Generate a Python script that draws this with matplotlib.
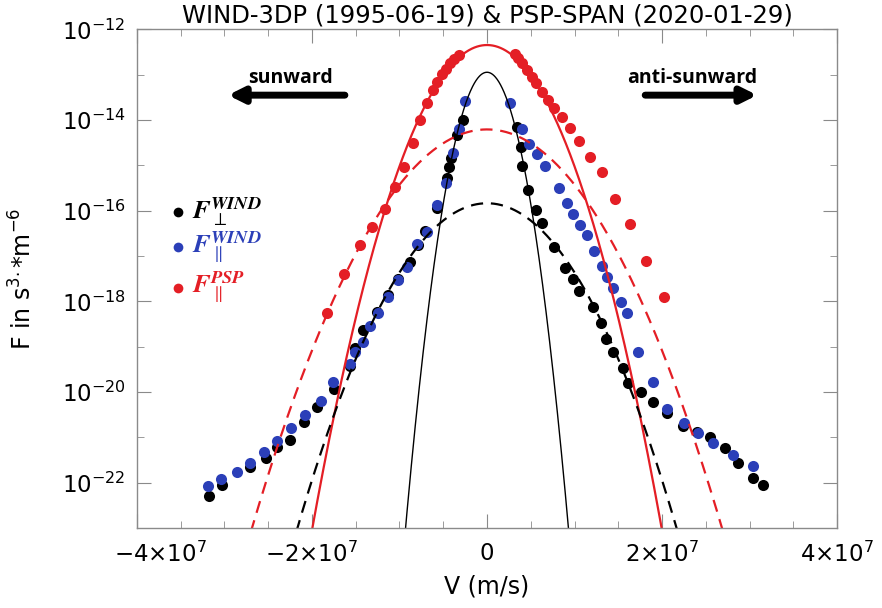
import numpy as np
import matplotlib
matplotlib.use("Agg")
import matplotlib.pyplot as plt
from matplotlib.transforms import ScaledTranslation

# --- data (velocity in m/s, F in s^3/m^6) ---
v_perp_wind = [-3.174e7, -3.032e7, -2.709e7, -2.526e7, -2.397e7, -2.251e7, -2.091e7, -1.946e7,
               -1.749e7, -1.566e7, -1.509e7, -1.414e7, -1.254e7, -1.128e7, -1.014e7, -0.880e7,
               -0.785e7, -0.714e7, -0.575e7, -0.461e7, -0.431e7, -0.417e7, -0.339e7, -0.278e7,
               0.339e7, 0.385e7, 0.397e7, 0.472e7, 0.560e7, 0.625e7, 0.766e7, 0.891e7,
               0.979e7, 1.055e7, 1.208e7, 1.299e7, 1.360e7, 1.443e7, 1.551e7, 1.608e7,
               1.757e7, 1.894e7, 2.054e7, 2.237e7, 2.397e7, 2.549e7, 2.720e7, 2.872e7,
               3.043e7, 3.151e7]
f_perp_wind = [5.1e-23, 9.0e-23, 2.2e-22, 3.5e-22, 6.1e-22, 8.8e-22, 2.2e-21, 4.8e-21,
               1.15e-20, 3.8e-20, 9.3e-20, 2.3e-19, 5.9e-19, 1.4e-18, 3.1e-18, 7.5e-18,
               1.75e-17, 3.5e-17, 1.16e-16, 5.2e-16, 9.3e-16, 1.43e-15, 4.7e-15, 1.0e-14,
               6.9e-15, 2.5e-15, 9.7e-16, 2.9e-16, 1.04e-16, 5.4e-17, 1.6e-17, 5.4e-18,
               3.1e-18, 1.7e-18, 7.6e-19, 3.3e-19, 1.5e-19, 7.8e-20, 3.4e-20, 1.56e-20,
               1.0e-20, 6.1e-21, 3.4e-21, 1.8e-21, 1.3e-21, 1.0e-21, 5.8e-22, 2.7e-22,
               1.26e-22, 9.0e-23]

v_par_wind = [-3.185e7, -3.043e7, -2.854e7, -2.709e7, -2.549e7, -2.397e7, -2.243e7, -2.077e7,
              -1.901e7, -1.757e7, -1.566e7, -1.509e7, -1.421e7, -1.337e7, -1.242e7, -1.128e7,
              -1.014e7, -0.918e7, -0.803e7, -0.689e7, -0.566e7, -0.466e7, -0.392e7, -0.317e7,
              -0.246e7,
              0.263e7, 0.397e7, 0.483e7, 0.568e7, 0.663e7, 0.823e7, 0.918e7, 0.986e7,
              1.063e7, 1.139e7, 1.226e7, 1.311e7, 1.368e7, 1.437e7, 1.528e7, 1.597e7,
              1.729e7, 1.894e7, 2.054e7, 2.251e7, 2.415e7, 2.586e7, 2.815e7, 3.037e7]
f_par_wind = [8.5e-23, 1.21e-22, 1.76e-22, 2.8e-22, 4.9e-22, 8.5e-22, 1.6e-21, 3.1e-21,
              6.5e-21, 1.7e-20, 4.2e-20, 7.8e-20, 1.3e-19, 2.8e-19, 5.6e-19, 1.27e-18,
              3.0e-18, 5.8e-18, 1.8e-17, 3.4e-17, 1.34e-16, 4.0e-16, 1.9e-15, 6.3e-15,
              2.56e-14,
              2.37e-14, 6.2e-15, 3.0e-15, 1.8e-15, 9.7e-16, 3.1e-16, 1.46e-16, 8.5e-17,
              4.8e-17, 2.9e-17, 1.3e-17, 6.0e-18, 3.5e-18, 1.95e-18, 9.8e-19, 5.6e-19,
              7.8e-20, 1.7e-20, 4.2e-21, 2.05e-21, 1.27e-21, 7.4e-22, 4.1e-22, 2.3e-22]

v_par_psp = [-1.832e7, -1.634e7, -1.451e7, -1.318e7, -1.166e7, -1.051e7, -0.943e7, -0.846e7,
             -0.762e7, -0.680e7, -0.617e7, -0.568e7, -0.518e7, -0.474e7, -0.426e7, -0.377e7,
             -0.320e7,
             0.320e7, 0.358e7, 0.397e7, 0.454e7, 0.511e7, 0.560e7, 0.625e7, 0.701e7,
             0.766e7, 0.854e7, 0.949e7, 1.055e7, 1.177e7, 1.317e7, 1.463e7, 1.634e7,
             1.821e7, 2.026e7]
f_par_psp = [5.6e-19, 4.0e-18, 1.75e-17, 4.4e-17, 1.09e-16, 3.3e-16, 9.1e-16, 3.1e-15,
             1.0e-14, 2.4e-14, 4.7e-14, 7.0e-14, 1.01e-13, 1.33e-13, 1.78e-13, 2.24e-13,
             2.71e-13,
             2.85e-13, 2.3e-13, 1.78e-13, 1.27e-13, 9.0e-14, 6.4e-14, 4.2e-14, 2.76e-14,
             1.81e-14, 1.16e-14, 6.6e-15, 3.5e-15, 1.55e-15, 7.2e-16, 1.78e-16, 5.2e-17,
             7.7e-18, 1.27e-18]

# Maxwellian fits: peak value and thermal speed (m/s)
fit_peak = [4.5e-13, 6.2e-15, 1.13e-13, 1.46e-16]
fit_vth = [4.03e6, 5.97e6, 1.935e6, 5.335e6]
fit_color = ["#e41e25", "#e41e25", "black", "black"]
fit_style = ["-", "--", "-", "--"]
fit_lw = [1.6, 1.6, 1.0, 1.6]

RED = "#e41e25"
BLUE = "#2b3fb8"

fig = plt.figure(figsize=(8.82, 6.08), dpi=100)
ax = fig.add_axes([0.1553, 0.1313, 0.7937, 0.8205])

ms = 8
ax.plot(v_perp_wind, f_perp_wind, "o", color="black", ms=ms, mec="none")
ax.plot(v_par_wind, f_par_wind, "o", color=BLUE, ms=ms, mec="none")
ax.plot(v_par_psp, f_par_psp, "o", color=RED, ms=ms, mec="none")

vv = np.linspace(-4e7, 4e7, 1601)
for pk, vt, c, ls, lw in zip(fit_peak, fit_vth, fit_color, fit_style, fit_lw):
    ax.plot(vv, pk * np.exp(-(vv / vt) ** 2), color=c, ls=ls, lw=lw,
            dashes=(5.5, 3.5) if ls == "--" else (None, None))

ax.set_yscale("log")
ax.set_xlim(-4e7, 4e7)
ax.set_ylim(1e-23, 1e-12)

ax.set_xticks([-4e7, -2e7, 0, 2e7, 4e7])
ax.set_xticklabels([r"$-4{\times}10^{7}$", r"$-2{\times}10^{7}$", "0",
                    r"$2{\times}10^{7}$", r"$4{\times}10^{7}$"])
ax.set_xticks(np.arange(-4e7, 4.01e7, 5e6), minor=True)
ax.set_yticks([1e-12, 1e-14, 1e-16, 1e-18, 1e-20, 1e-22])
ax.set_yticklabels([r"$10^{-12}$", r"$10^{-14}$", r"$10^{-16}$",
                    r"$10^{-18}$", r"$10^{-20}$", r"$10^{-22}$"])
ax.set_yticks([1e-13, 1e-15, 1e-17, 1e-19, 1e-21, 1e-23], minor=True)
ax.yaxis.set_minor_formatter(plt.NullFormatter())

frame = "#8a8a8a"
for s in ax.spines.values():
    s.set_color(frame)
    s.set_linewidth(1.0)
ax.tick_params(which="both", direction="in", top=True, right=True, color=frame,
               labelsize=16.5)
ax.tick_params(axis="x", pad=10)
ax.tick_params(axis="y", pad=8)
ax.tick_params(which="major", length=10)
ax.tick_params(which="minor", length=5)

# leftmost x label sits a bit to the right in the original
lab0 = ax.get_xticklabels()[0]
lab0.set_transform(lab0.get_transform() + ScaledTranslation(0.24, 0, fig.dpi_scale_trans))

ax.set_title("WIND-3DP (1995-06-19) & PSP-SPAN (2020-01-29)", fontsize=17.5, pad=5)
ax.set_xlabel("V (m/s)", fontsize=17, labelpad=5)
ax.set_ylabel(r"F in s$^{3.}$*m$^{-6}$", fontsize=17, labelpad=18)

# direction arrows
ax.annotate("", xy=(0.13, 0.868), xytext=(0.297, 0.868), xycoords="axes fraction",
            arrowprops=dict(arrowstyle="-|>,head_length=0.9,head_width=0.45", lw=5,
                            color="black", shrinkA=0, shrinkB=0))
ax.text(0.219, 0.902, "sunward", transform=ax.transAxes, ha="center", va="center",
        fontsize=14, fontweight="bold", family="Open Sans")
ax.annotate("", xy=(0.886, 0.868), xytext=(0.726, 0.868), xycoords="axes fraction",
            arrowprops=dict(arrowstyle="-|>,head_length=0.9,head_width=0.45", lw=5,
                            color="black", shrinkA=0, shrinkB=0))
ax.text(0.793, 0.902, "anti-sunward", transform=ax.transAxes, ha="center", va="center",
        fontsize=14, fontweight="bold", family="Open Sans")

# legend drawn as text
leg_y = [0.634, 0.564, 0.482]
leg_c = ["black", BLUE, RED]
leg_t = [r"$\mathbfit{F}_{\perp}^{\mathbfit{WIND}}$",
         r"$\mathbfit{F}_{\parallel}^{\mathbfit{WIND}}$",
         r"$\mathbfit{F}_{\parallel}^{\mathbfit{PSP}}$"]
for y, c, t in zip(leg_y, leg_c, leg_t):
    ax.plot([0.0586], [y], "o", color=c, ms=7, mec="none", transform=ax.transAxes)
    ax.text(0.078, y, t, transform=ax.transAxes, ha="left", va="center", color=c,
            fontsize=19, math_fontfamily="stix")

fig.savefig("out.png", dpi=100)
